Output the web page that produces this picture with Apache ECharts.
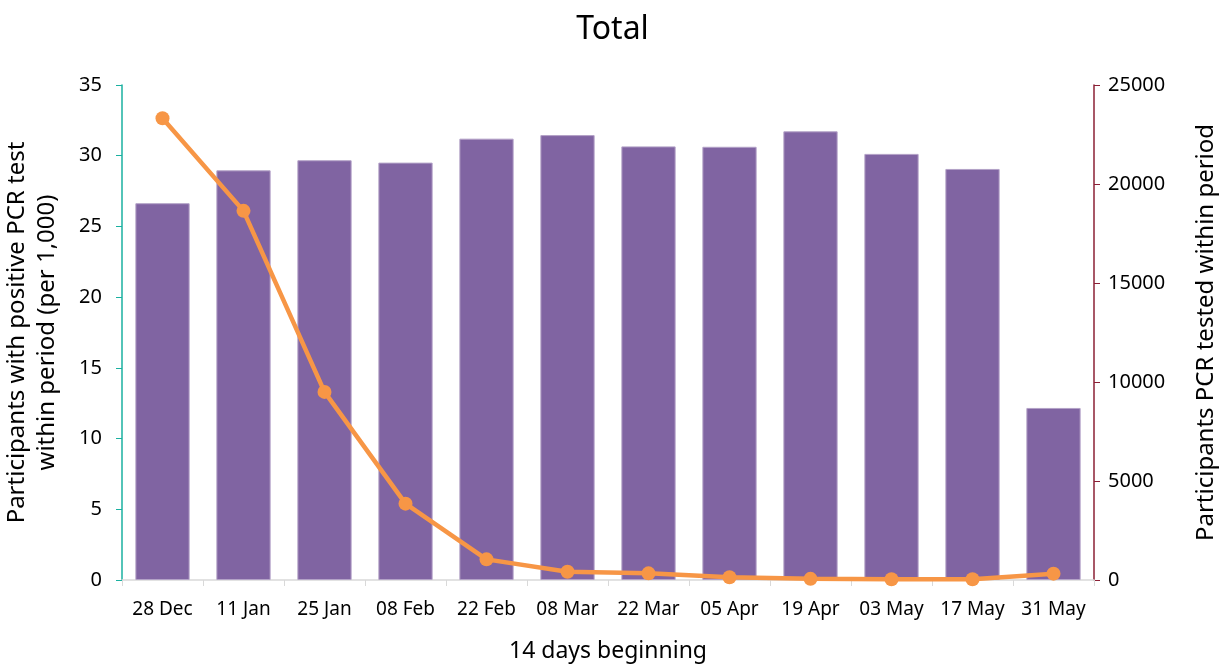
<!DOCTYPE html>
<html>
<head>
<meta charset="utf-8">
<script src="https://cdn.jsdelivr.net/npm/echarts@6/dist/echarts.min.js"></script>
<style>
  html, body { margin: 0; padding: 0; background: #fff; }
  #chart { width: 1225px; height: 664px; }
</style>
</head>
<body>
<div id="chart"></div>
<script>
const categories = ['28 Dec', '11 Jan', '25 Jan', '08 Feb', '22 Feb', '08 Mar', '22 Mar', '05 Apr', '19 Apr', '03 May', '17 May', '31 May']
// participants PCR tested within period (right axis, bars)
const testedCounts = [19030, 20690, 21200, 21080, 22290, 22470, 21900, 21880, 22660, 21520, 20760, 8690]
// participants with positive PCR test per 1,000 (left axis, line)
const positiveRate = [32.65, 26.1, 13.3, 5.4, 1.46, 0.58, 0.47, 0.19, 0.08, 0.05, 0.05, 0.45]
const leftTicks = [0, 35, 5]
const rightTicks = [0, 25000, 5000]

const font = 'Noto Sans'
const chart = echarts.init(document.getElementById('chart'))

chart.setOption({
  animation: false,
  textStyle: { fontFamily: font },
  title: {
    text: 'Total',
    left: 'center',
    top: 9,
    textStyle: { fontFamily: font, fontSize: 32, fontWeight: 'normal', color: '#000' }
  },
  grid: { left: 122, right: 131, top: 85, bottom: 84, containLabel: false, outerBoundsMode: 'none' },
  xAxis: {
    type: 'category',
    data: categories,
    name: '14 days beginning',
    nameLocation: 'middle',
    nameGap: 60,
    nameTextStyle: { fontSize: 23, color: '#000' },
    axisLine: { lineStyle: { color: '#d9d9d9', width: 1.5 } },
    axisTick: { show: true, length: 6, lineStyle: { color: '#d9d9d9' } },
    axisLabel: { fontSize: 19, color: '#000', margin: 20, interval: 0 }
  },
  yAxis: [
    {
      type: 'value',
      min: leftTicks[0],
      max: leftTicks[1],
      interval: leftTicks[2],
      position: 'left',
      name: 'Participants with positive PCR test\nwithin period (per 1,000)',
      nameLocation: 'middle',
      nameGap: 60,
      nameTextStyle: { fontSize: 24, color: '#000', lineHeight: 30 },
      axisLine: { show: true, lineStyle: { color: '#1ab0a0', width: 1.5 } },
      axisTick: { show: true, length: 6, lineStyle: { color: '#1ab0a0' } },
      axisLabel: { fontSize: 20, color: '#000', margin: 20 },
      splitLine: { show: false }
    },
    {
      type: 'value',
      min: rightTicks[0],
      max: rightTicks[1],
      interval: rightTicks[2],
      position: 'right',
      name: 'Participants PCR tested within period',
      nameLocation: 'middle',
      nameGap: 100,
      nameRotate: 90,
      nameTextStyle: { fontSize: 24, color: '#000' },
      axisLine: { show: true, lineStyle: { color: '#8b2035', width: 1.5 } },
      axisTick: { show: true, length: 6, lineStyle: { color: '#8b2035' } },
      axisLabel: { fontSize: 20, color: '#000', margin: 14, formatter: v => String(v) },
      splitLine: { show: false }
    }
  ],
  series: [
    {
      name: 'Participants PCR tested within period',
      type: 'bar',
      yAxisIndex: 1,
      data: testedCounts,
      barCategoryGap: '33%',
      itemStyle: { color: '#8064a2', borderColor: '#b3a2c7', borderWidth: 1 }
    },
    {
      name: 'Participants with positive PCR test (per 1,000)',
      type: 'line',
      yAxisIndex: 0,
      data: positiveRate,
      symbol: 'circle',
      symbolSize: 14,
      lineStyle: { color: '#f79646', width: 4.5 },
      itemStyle: { color: '#f79646' },
      z: 5
    }
  ]
})
</script>
</body>
</html>
